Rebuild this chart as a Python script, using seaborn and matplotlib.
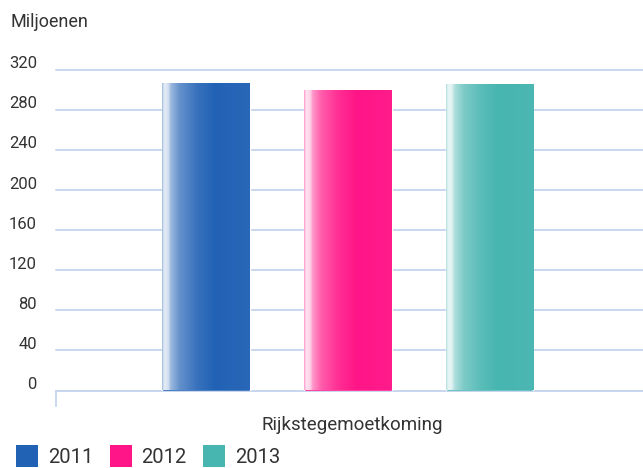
import numpy as np
import pandas as pd
import matplotlib
matplotlib.use("Agg")
import matplotlib.pyplot as plt
import matplotlib.transforms as mtransforms
from matplotlib.patches import Patch
from matplotlib.lines import Line2D
import seaborn as sns

categories = ["Rijkstegemoetkoming"]
years = ["2011", "2012", "2013"]
values = [307, 300, 306]
colors = ["#2262b5", "#ff1587", "#47b5b0"]
y_ticks = [0, 40, 80, 120, 160, 200, 240, 280, 320]
y_unit = "Miljoenen"

df = pd.DataFrame({"cat": categories * len(years), "year": years, "val": values})

sns.set_theme(style="white")
plt.rcParams["font.family"] = ["Roboto", "DejaVu Sans"]
text_c = "#333333"
grid_c = "#c8d7ee"

W, H = 643, 468
fig = plt.figure(figsize=(W / 100, H / 100), dpi=100)
ax_left, ax_right = 56 / W, 1.0
ax_bot = (H - 390.5) / H
ax_top = (H - 59.8) / H
ax = fig.add_axes([ax_left, ax_bot, ax_right - ax_left, ax_top - ax_bot])

sns.barplot(data=df, x="cat", y="val", hue="year", palette=colors,
            width=0.72, gap=0.38, saturation=1, legend=False, ax=ax, zorder=3)

ax.set_ylim(0, 330)
ax.set_xlim(-0.495, 0.5005)
ax.set_yticks(y_ticks)
ax.set_yticklabels([str(t) for t in y_ticks])
for t in y_ticks:
    ax.axhline(t, color=grid_c, lw=1.4, zorder=1, clip_on=False)

for s in ["top", "right", "left"]:
    ax.spines[s].set_visible(False)
ax.spines["bottom"].set_color(grid_c)
ax.spines["bottom"].set_linewidth(1.4)
ax.add_line(Line2D([0, 0], [0, -15 / (390.5 - 59.8)], transform=ax.transAxes,
                   color=grid_c, lw=1.4, clip_on=False))

ax.tick_params(axis="y", length=0, pad=19 * 0.72, labelsize=12, labelcolor=text_c)
ax.tick_params(axis="x", length=0, pad=18.5, labelsize=13.5, labelcolor=text_c)
offset = mtransforms.ScaledTranslation(0, 7.5 / 100, fig.dpi_scale_trans)
for lab in ax.get_yticklabels():
    lab.set_transform(lab.get_transform() + offset)
for lab in ax.get_xticklabels():
    lab.set_transform(lab.get_transform() + mtransforms.ScaledTranslation(4 / 100, 0, fig.dpi_scale_trans))
ax.set_xlabel("")
ax.set_ylabel("")

# gradient highlight on the left side of each bar
xs = np.linspace(0, 1, 300)
wcurve = np.interp(xs, [0, 0.015, 0.03, 0.07, 0.1, 0.2, 0.4, 0.6, 1.0],
                   [0.55, 0.8, 0.88, 0.8, 0.55, 0.3, 0.1, 0.0, 0.03])
for patch in ax.patches:
    bb = patch.get_bbox()
    if bb.width <= 0:
        continue
    base = np.array(matplotlib.colors.to_rgb(patch.get_facecolor()))
    img = base[None, :] * (1 - wcurve[:, None]) + wcurve[:, None]
    img = img[None, :, :]
    im = ax.imshow(img, extent=[bb.x0, bb.x1, bb.y0, bb.y1], aspect="auto",
                   zorder=4, interpolation="bilinear")
    im.set_clip_path(patch)
ax.set_xlim(-0.495, 0.5005)
ax.set_ylim(0, 330)

fig.text(10 / W, 1 - 22 / H, y_unit, fontsize=13, color=text_c, va="center", ha="left")

handles = [Patch(facecolor=c, edgecolor="none") for c in colors]
fs = 14.5
fpx = fs * 100 / 72
fig.legend(handles, years, loc="upper left", bbox_to_anchor=(16 / W, 1 - 445 / H),
           ncol=3, frameon=False, fontsize=fs, handlelength=22 / fpx, handleheight=27 / fpx,
           handletextpad=0.5, columnspacing=0.8, borderpad=0, borderaxespad=0,
           labelcolor=text_c)

fig.savefig("out.png", dpi=100)
